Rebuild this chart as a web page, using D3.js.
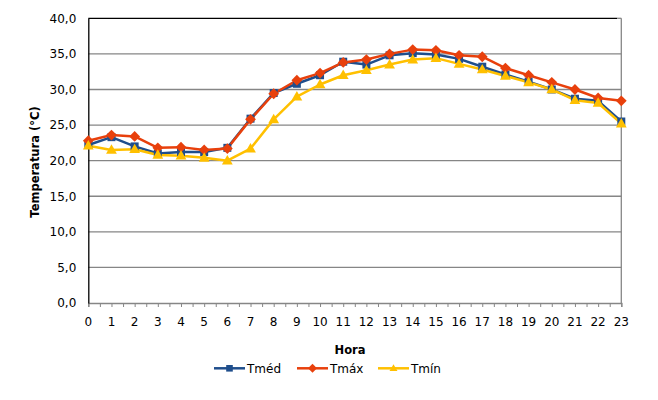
<!DOCTYPE html>
<html><head><meta charset="utf-8">
<script src="https://cdn.jsdelivr.net/npm/d3@7"></script>
<style>body{margin:0;background:#fff}svg{display:block;font-family:"DejaVu Sans",Verdana,sans-serif}</style>
</head><body><svg id="c" width="658" height="400"></svg>
<script>
const hours = d3.range(0,24);
const hourLabels = hours.map(String);
const tmed = [22.2,23.3,22.0,21.0,21.2,21.2,21.8,25.9,29.5,30.8,32.0,33.9,33.5,34.8,35.1,34.9,34.3,33.2,32.1,31.1,30.0,28.7,28.4,25.5];
const tmax = [22.8,23.6,23.4,21.8,21.9,21.5,21.7,25.8,29.4,31.3,32.3,33.8,34.2,35.0,35.6,35.5,34.8,34.6,33.0,32.0,31.0,30.0,28.8,28.4];
const tmin = [22.1,21.5,21.6,20.8,20.7,20.4,20.0,21.7,25.8,29.0,30.7,32.0,32.7,33.5,34.2,34.4,33.6,32.8,31.9,31.0,30.0,28.5,28.1,25.2];
const yTicks = [0,5,10,15,20,25,30,35,40];
const seriesNames = ["Tméd","Tmáx","Tmín"];
const seriesColors = ["#1F4E8C","#E8400C","#FFC000"];
const seriesData = [tmed, tmax, tmin];

const svg = d3.select("#c");
const L=88.3, R=621.3, T=18.3, B=303;
const x = d3.scaleLinear().domain([0,23]).range([L,R]);
const y = d3.scaleLinear().domain([0,40]).range([B,T]);
const fmt = v => d3.format(".1f")(v).replace(".",",");

// marker shapes (path generators, size = half-width)
const shapes = [
  s => `M${-s},${-s}H${s}V${s}H${-s}Z`,
  s => `M0,${-s*1.35}L${s*1.35},0L0,${s*1.35}L${-s*1.35},0Z`,
  s => `M0,${-s*1.25}L${s*1.2},${s*0.85}L${-s*1.2},${s*0.85}Z`
];

// gridlines
svg.append("g").selectAll("line").data(yTicks.filter(v=>v>0&&v<40)).join("line")
  .attr("x1",L).attr("x2",R).attr("y1",d=>y(d)).attr("y2",d=>y(d))
  .attr("stroke","#868686").attr("stroke-width",1.3);
// top border
svg.append("line").attr("x1",L).attr("x2",R-4).attr("y1",y(40)).attr("y2",y(40)).attr("stroke","#000").attr("stroke-width",1.3);
svg.append("line").attr("x1",R-4).attr("x2",R).attr("y1",y(40)).attr("y2",y(40)).attr("stroke","#868686").attr("stroke-width",1.3);
// right border
svg.append("line").attr("x1",R).attr("x2",R).attr("y1",T).attr("y2",B).attr("stroke","#868686").attr("stroke-width",1.3);

// x axis
const xa = d3.axisBottom(x).tickValues(d3.range(0,23.01,0.5)).tickSize(4).tickFormat("");
const gx = svg.append("g").attr("transform",`translate(0,${B})`).call(xa);
gx.select(".domain").attr("stroke","#868686").attr("stroke-width",1.3);
gx.selectAll(".tick line").attr("stroke","#868686");
svg.append("g").selectAll("text").data(hours).join("text")
  .attr("x",d=>x(d)).attr("y",B+23).attr("text-anchor","middle")
  .attr("font-size",12).attr("fill","#000").text((d,i)=>hourLabels[i]);

// y axis
const ya = d3.axisLeft(y).tickValues(yTicks).tickSize(0).tickPadding(12).tickFormat(fmt);
const gy = svg.append("g").attr("transform",`translate(${L},0)`).call(ya);
gy.select(".domain").attr("stroke","#000").attr("stroke-width",1.3);
gy.selectAll("text").attr("font-size",12).attr("fill","#000").attr("font-family","DejaVu Sans");

// titles
svg.append("text").attr("transform",`translate(39,162) rotate(-90)`).attr("text-anchor","middle")
  .attr("font-size",11.5).attr("font-weight","bold").text("Temperatura (°C)");
svg.append("text").attr("x",350).attr("y",354).attr("text-anchor","middle")
  .attr("font-size",11.5).attr("font-weight","bold").text("Hora");

// lines and markers
const line = d3.line().x((d,i)=>x(hours[i])).y(d=>y(d));
const sizes = [4, 4, 4.5];
seriesData.forEach((data,k)=>{
  svg.append("path").datum(data).attr("d",line).attr("fill","none")
    .attr("stroke",seriesColors[k]).attr("stroke-width",2.5).attr("stroke-linejoin","round");
});
seriesData.forEach((data,k)=>{
  svg.append("g").selectAll("path").data(data).join("path")
    .attr("d",shapes[k](sizes[k]))
    .attr("transform",(d,i)=>`translate(${x(hours[i])},${y(d)})`)
    .attr("fill",seriesColors[k]);
});

// legend
const legX = [214,297,378];
const lg = svg.append("g");
seriesNames.forEach((n,k)=>{
  const g = lg.append("g").attr("transform",`translate(${legX[k]},368.3)`);
  g.append("line").attr("x1",0).attr("x2",31).attr("stroke",seriesColors[k]).attr("stroke-width",2.5);
  g.append("path").attr("d",shapes[k](3.3)).attr("transform","translate(15.5,0)").attr("fill",seriesColors[k]);
  g.append("text").attr("x",33).attr("y",4.5).attr("font-size",12).text(n);
});
</script></body></html>
